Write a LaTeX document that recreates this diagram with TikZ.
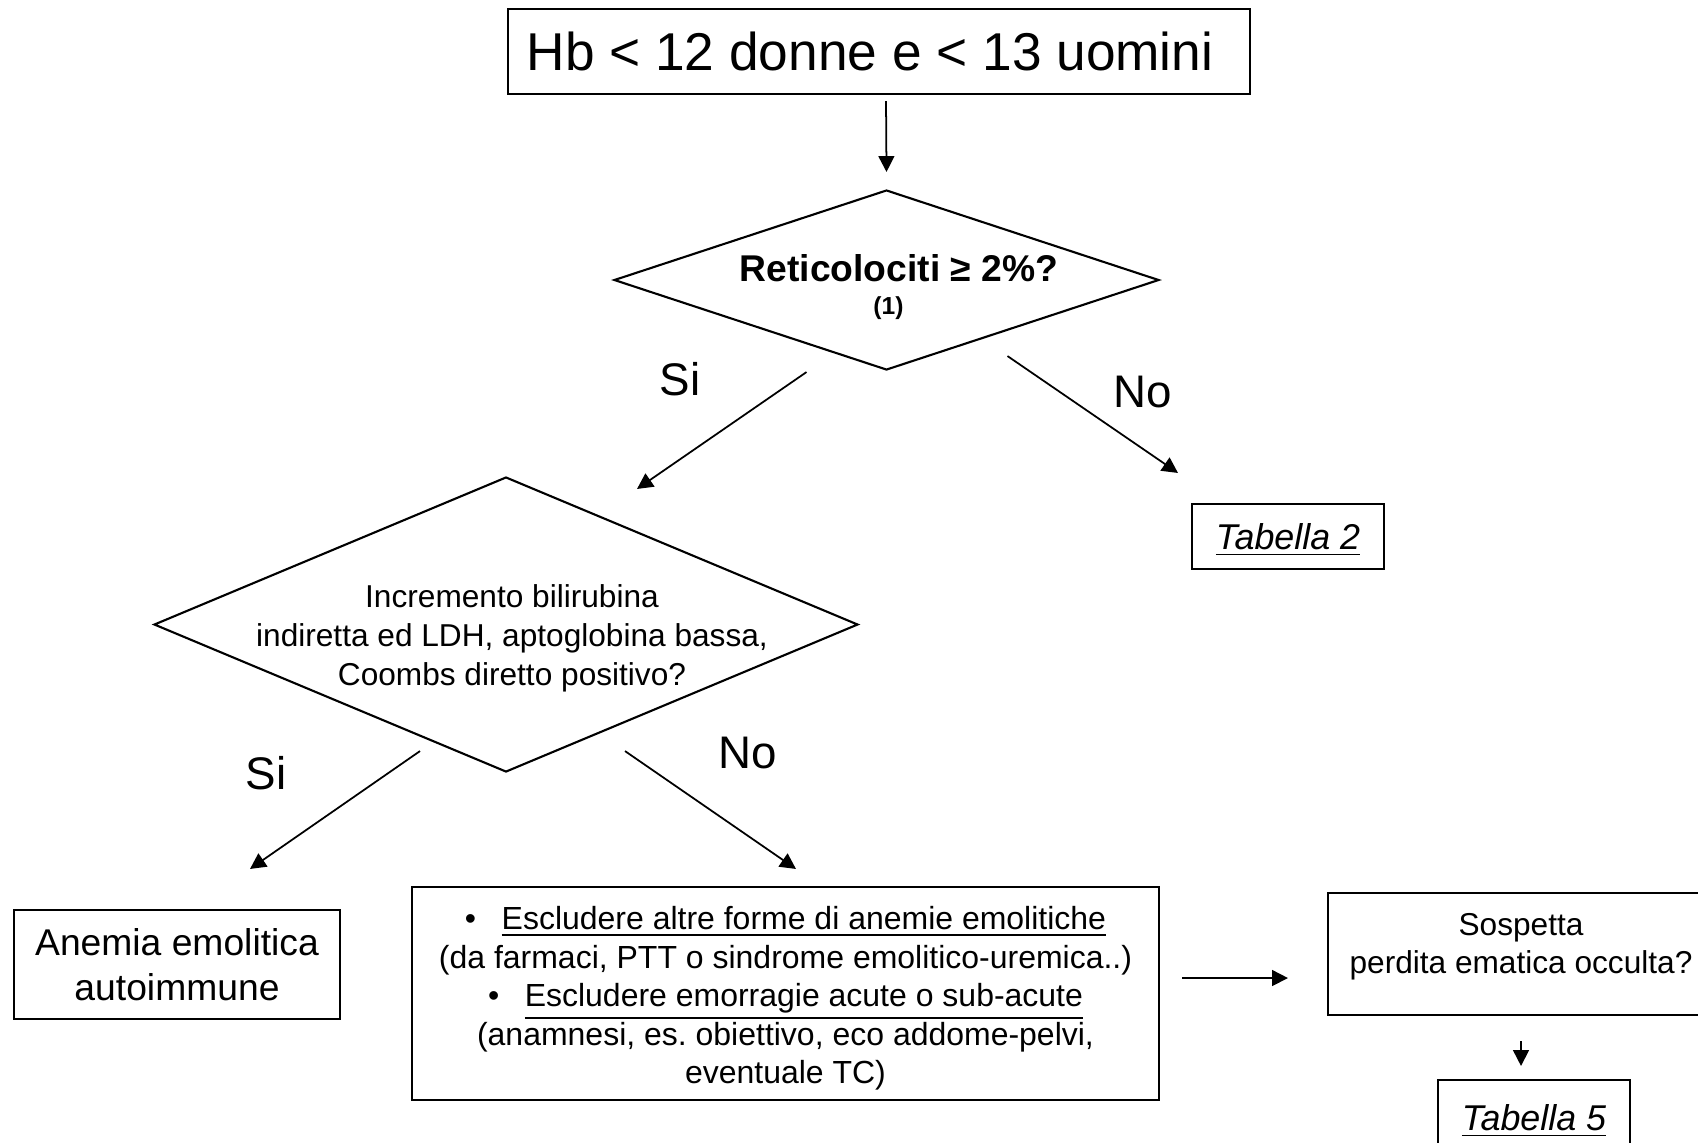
\documentclass[tikz,border=0pt]{standalone}
\usepackage{fontspec}
\setmainfont{Liberation Sans}
\usetikzlibrary{shapes.geometric,arrows.meta}

\newcommand{\fsz}[2]{\fontsize{#1}{#2}\selectfont}
\frenchspacing

\begin{document}
\begin{tikzpicture}[->,>={Triangle[length=4.5pt,width=4.5pt]},line width=0.5pt,align=center,
    box/.style={draw,rectangle,line width=0.6pt,inner sep=0pt},
    cond/.style={draw,diamond,line width=0.6pt,inner sep=0pt},
    answer/.style={font=\fsz{13}{15}},
    tabref/.style={box,minimum width=1.92cm,minimum height=0.65cm,text depth=0pt,font=\fsz{10.2}{12}\itshape}]
    \path[-,use as bounding box,clip] (0,0) rectangle (16.98,-11.42);

    % boxes and questions
    \node[box,minimum width=7.42cm,minimum height=0.85cm,font=\fsz{15.15}{18}] (hb) at (8.79,-0.515) {Hb < 12 donne e < 13 uomini\hspace{0.18cm}};
    \node[cond,minimum width=5.45cm,minimum height=1.8cm] (ret) at (8.865,-2.80) {};
    \node (rett) at ([xshift=0.02cm,yshift=-0.07cm]ret.center) {\fsz{10.6}{12}\bfseries\hspace*{0.21cm}Reticolociti ≥ 2\%?\\[-2.5pt] \fsz{7}{9}\bfseries (1)};
    \node[tabref] (tab2) at (12.88,-5.365) {\underline{Tabella 2}};
    \node[cond,minimum width=7.04cm,minimum height=2.95cm] (inc) at (5.06,-6.245) {};
    \node[font=\fsz{9}{11.1}] (inct) at (5.12,-6.38) {Incremento bilirubina\\ indiretta ed LDH, aptoglobina bassa,\\ Coombs diretto positivo?};
    \node[box,minimum width=3.26cm,minimum height=1.09cm,font=\fsz{10.6}{12.8}] (aea) at (1.77,-9.645) {Anemia emolitica\\ autoimmune};
    \node[box,minimum width=7.47cm,minimum height=2.13cm,font=\fsz{9.1}{10.95}] (escl) at (7.855,-9.935)
        {\rule{0pt}{9.3pt}\textbullet\hspace{0.8em}\underline{Escludere altre forme di anemie emolitiche}\\
        (da farmaci, PTT o sindrome emolitico-uremica..)\\
        \textbullet\hspace{0.8em}\underline{Escludere emorragie acute o sub-acute}\\
        (anamnesi, es. obiettivo, eco addome-pelvi,\\
        eventuale TC)};
    \node[box,minimum width=3.86cm,minimum height=1.22cm,text depth=6pt,font=\fsz{9}{10.8}] (sosp) at (15.21,-9.54) {Sospetta\\ perdita ematica occulta?};
    \node[tabref,minimum height=0.75cm] (tab5) at (15.34,-11.175) {\underline{Tabella 5}};

    % answers
    \node[answer] (si1) at (6.80,-3.79) {Si};
    \node[answer] (no1) at (11.43,-3.92) {No};
    \node[answer] (si2) at (2.66,-7.73) {Si};
    \node[answer] (no2) at (7.48,-7.53) {No};

    % arrows
    \draw ([xshift=0.07cm,yshift=-0.06cm]hb.south) -- ([yshift=0.17cm]ret.north);
    \draw ([xshift=-0.80cm,yshift=-0.01cm]ret.south) -- ([xshift=1.31cm,yshift=-0.13cm]inc.north);
    \draw ([xshift=1.21cm,yshift=0.15cm]ret.south) -- ([xshift=-1.10cm,yshift=0.30cm]tab2.north);
    \draw ([xshift=-0.86cm,yshift=0.22cm]inc.south) -- ([xshift=0.73cm,yshift=0.40cm]aea.north);
    \draw ([xshift=1.19cm,yshift=0.22cm]inc.south) -- ([xshift=0.105cm,yshift=0.17cm]escl.north);
    \draw ([xshift=0.22cm,yshift=0.155cm]escl.east) -- ([xshift=-0.39cm,yshift=-0.24cm]sosp.west);
    \draw ([yshift=-0.25cm]sosp.south) -- ([xshift=-0.13cm,yshift=0.13cm]tab5.north);
\end{tikzpicture}
\end{document}
